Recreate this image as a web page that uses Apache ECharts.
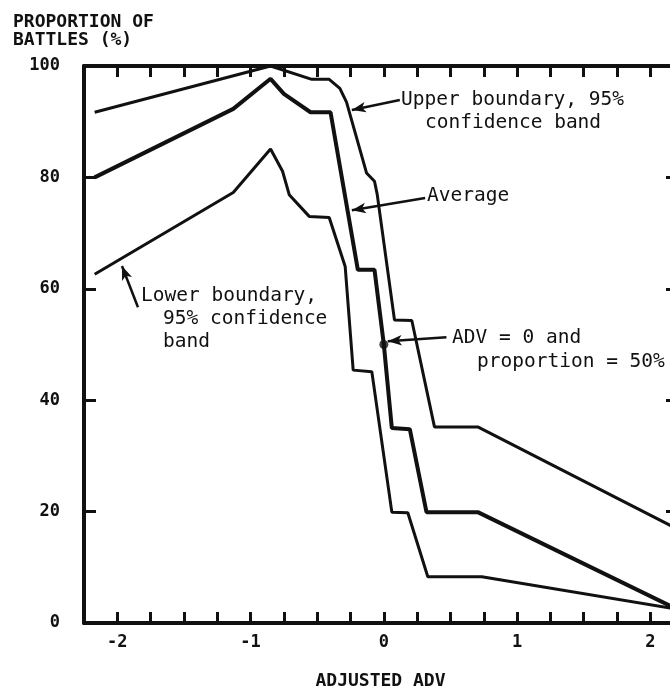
<!DOCTYPE html>
<html>
<head>
<meta charset="utf-8">
<script src="https://cdn.jsdelivr.net/npm/echarts@6/dist/echarts.min.js"></script>
<style>
html, body { margin: 0; padding: 0; background: #fff; overflow: hidden; }
#chart { width: 670px; height: 689px; }
</style>
</head>
<body>
<div id="chart"></div>
<script>
// [adjusted ADV, proportion of battles %]
const upperBand = [
  [-2.17, 91.7], [-0.85, 100], [-0.54, 97.6], [-0.41, 97.6], [-0.33, 96],
  [-0.28, 93.5], [-0.13, 80.8], [-0.07, 79.3], [-0.05, 77], [0.08, 54.4],
  [0.21, 54.3], [0.38, 35.2], [0.705, 35.2], [2.2, 16.9]
]
const average = [
  [-2.17, 80], [-1.13, 92.3], [-0.85, 97.7], [-0.75, 95], [-0.55, 91.7],
  [-0.40, 91.7], [-0.195, 63.4], [-0.07, 63.4], [0, 50], [0.06, 35],
  [0.195, 34.8], [0.32, 19.9], [0.705, 19.9], [2.2, 2.5]
]
const lowerBand = [
  [-2.17, 62.6], [-1.13, 77.3], [-0.85, 85.1], [-0.76, 81.1], [-0.71, 76.9],
  [-0.56, 73], [-0.41, 72.8], [-0.29, 64], [-0.23, 45.4], [-0.09, 45.1],
  [0.06, 19.9], [0.18, 19.8], [0.33, 8.3], [0.735, 8.3], [2.2, 2.5]
]
const midPoint = [[0, 50]]
const xTickLabels = [-2, -1, 0, 1, 2]
const yTickLabels = [0, 20, 40, 60, 80, 100]

// annotation arrows, from text to curve (data units)
const arrows = [
  { from: [0.12, 93.9], to: [-0.24, 92.1] },
  { from: [0.31, 76.3], to: [-0.24, 74.1] },
  { from: [-1.845, 56.7], to: [-1.965, 64.1] },
  { from: [0.47, 51.3], to: [0.03, 50.6] },
]

const ink = '#111'
const mono = '"DejaVu Sans Mono", monospace'

const chart = echarts.init(document.getElementById('chart'))

const tickAxis = (extra) => Object.assign({
  type: 'value',
  axisLine: { onZero: false, lineStyle: { color: ink, width: 4 } },
  axisTick: { inside: true, length: 11, lineStyle: { color: ink, width: 3 } },
  splitLine: { show: false },
  axisLabel: { show: false },
}, extra)

chart.setOption({
  animation: false,
  backgroundColor: '#fff',
  grid: { left: 84, top: 66, width: 593, height: 557, outerBoundsMode: 'none' },
  xAxis: [
    tickAxis({
      position: 'bottom', min: -2.25, max: 2.2, interval: 0.25,
      axisLabel: {
        show: true, margin: 11, color: ink,
        fontFamily: mono, fontWeight: 'bold', fontSize: 17,
        formatter: (v) => (xTickLabels.includes(v) ? String(v) : ''),
      },
      name: 'ADJUSTED ADV',
      nameLocation: 'middle',
      nameGap: 49,
      nameTextStyle: { color: ink, fontFamily: mono, fontWeight: 'bold', fontSize: 18 },
    }),
    tickAxis({ position: 'top', min: -2.25, max: 2.2, interval: 0.25 }),
  ],
  yAxis: [
    tickAxis({
      position: 'left', min: 0, max: 100, interval: 20,
      axisTick: { inside: true, length: 12, lineStyle: { color: ink, width: 3 } },
      axisLabel: {
        show: true, margin: 24, color: ink,
        fontFamily: mono, fontWeight: 'bold', fontSize: 17,
        formatter: (v) => (yTickLabels.includes(v) ? String(v) : ''),
      },
    }),
    tickAxis({ position: 'right', min: 0, max: 100, interval: 20 }),
  ],
  series: [
    {
      name: 'Upper boundary', type: 'line', data: upperBand,
      showSymbol: false, lineStyle: { color: ink, width: 3 },
    },
    {
      name: 'Average', type: 'line', data: average,
      showSymbol: false, lineStyle: { color: ink, width: 4 },
      markLine: {
        silent: true,
        symbol: ['none', 'arrow'],
        symbolSize: [8, 14],
        label: { show: false },
        lineStyle: { color: ink, width: 2.5, type: 'solid' },
        data: arrows.map((a) => [{ coord: a.from }, { coord: a.to }]),
      },
    },
    {
      name: 'Lower boundary', type: 'line', data: lowerBand,
      showSymbol: false, lineStyle: { color: ink, width: 3 },
    },
    {
      name: 'ADV = 0', type: 'scatter', data: midPoint,
      symbolSize: 9, itemStyle: { color: ink },
    },
  ],
  graphic: [
    { type: 'text', left: 13, top: 13, style: { text: 'PROPORTION OF\nBATTLES (%)', fill: ink, font: 'bold 18px ' + mono, lineHeight: 18 } },
    { type: 'text', left: 401, top: 90, style: { text: 'Upper boundary, 95%', fill: ink, font: '19.5px ' + mono } },
    { type: 'text', left: 425, top: 113, style: { text: 'confidence band', fill: ink, font: '19.5px ' + mono } },
    { type: 'text', left: 427, top: 186, style: { text: 'Average', fill: ink, font: '19.5px ' + mono } },
    { type: 'text', left: 141, top: 286, style: { text: 'Lower boundary,', fill: ink, font: '19.5px ' + mono } },
    { type: 'text', left: 163, top: 309, style: { text: '95% confidence', fill: ink, font: '19.5px ' + mono } },
    { type: 'text', left: 163, top: 332, style: { text: 'band', fill: ink, font: '19.5px ' + mono } },
    { type: 'text', left: 452, top: 328, style: { text: 'ADV = 0 and', fill: ink, font: '19.5px ' + mono } },
    { type: 'text', left: 477, top: 352, style: { text: 'proportion = 50%', fill: ink, font: '19.5px ' + mono } },
  ],
})
</script>
</body>
</html>
